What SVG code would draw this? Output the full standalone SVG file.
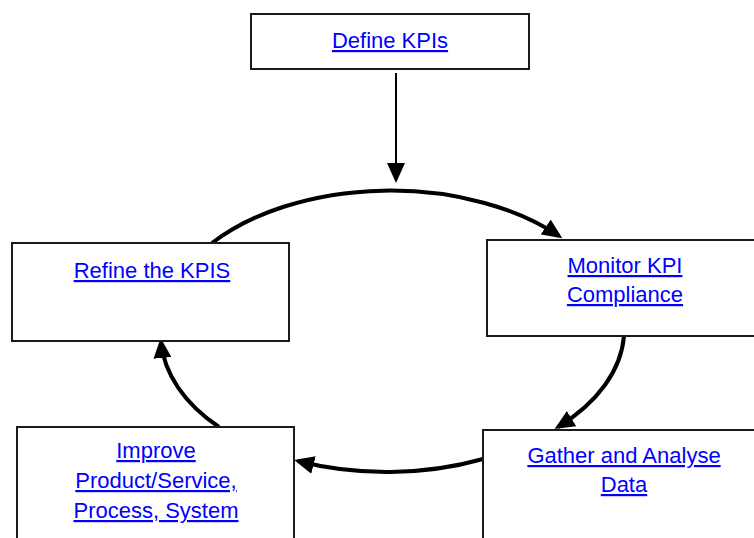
<svg xmlns="http://www.w3.org/2000/svg" width="754" height="538" viewBox="0 0 754 538">
<style>
.box{fill:#fff;stroke:#1a1a1a;stroke-width:2}
.lbl{font-family:"Liberation Sans",Arial,sans-serif;font-size:22px;fill:#0000ff;text-decoration:underline;text-anchor:middle}
.arc{fill:none;stroke:#000;stroke-width:4;marker-end:url(#ah)}
</style>
<defs>
<marker id="ah" viewBox="0 0 20 18" markerUnits="userSpaceOnUse" markerWidth="20" markerHeight="18" refX="16" refY="9" orient="auto">
<path d="M0,0 L20,9 L0,18 z" fill="#000"/>
</marker>
</defs>
<rect width="754" height="538" fill="#fff"/>
<g id="connectors">
<path d="M396,73 L396,179" fill="none" stroke="#000" stroke-width="2" marker-end="url(#ah)"/>
<path class="arc" d="M212,243 A228,139 0 0 1 559,236"/>
<path class="arc" d="M624,336 A228,139 0 0 1 558,427"/>
<path class="arc" d="M483,459 A228,139 0 0 1 298,461"/>
<path class="arc" d="M219,427 A228,139 0 0 1 161,342"/>
</g>
<g id="define">
<rect class="box" x="251" y="14" width="278" height="55"/>
<text class="lbl" x="390" y="48">Define KPIs</text>
</g>
<g id="refine">
<rect class="box" x="12" y="243" width="277" height="98"/>
<text class="lbl" x="152" y="278">Refine the KPIS</text>
</g>
<g id="monitor">
<rect class="box" x="487" y="240" width="280" height="96"/>
<text class="lbl" x="625" y="273">Monitor KPI</text>
<text class="lbl" x="625" y="302">Compliance</text>
</g>
<g id="gather">
<rect class="box" x="483" y="430" width="280" height="120"/>
<text class="lbl" x="624" y="463">Gather and Analyse</text>
<text class="lbl" x="624" y="492">Data</text>
</g>
<g id="improve">
<rect class="box" x="17" y="427" width="277" height="120"/>
<text class="lbl" x="156" y="458">Improve</text>
<text class="lbl" x="156" y="488">Product/Service,</text>
<text class="lbl" x="156" y="518">Process, System</text>
</g>
</svg>
